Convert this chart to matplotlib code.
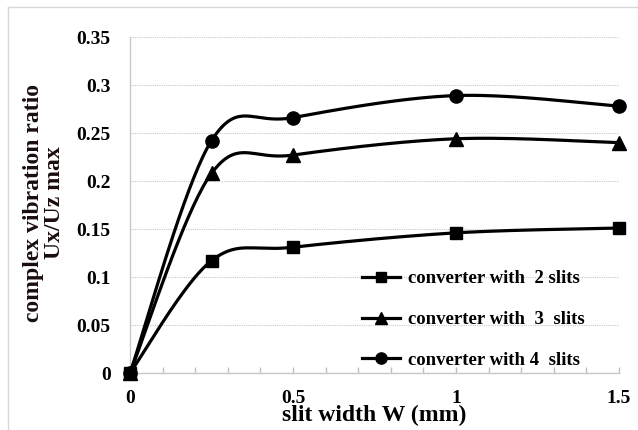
import numpy as np
import matplotlib
matplotlib.use("Agg")
import matplotlib.pyplot as plt
from matplotlib.lines import Line2D
from matplotlib.ticker import MultipleLocator, FixedLocator

# Data
x = [0, 0.25, 0.5, 1.0, 1.5]
y_2slits = [0, 0.117, 0.131, 0.146, 0.151]
y_3slits = [0, 0.208, 0.227, 0.244, 0.240]
y_4slits = [0, 0.242, 0.266, 0.289, 0.278]
labels = ["converter with  2 slits", "converter with  3  slits", "converter with 4  slits"]
markers = ["s", "^", "o"]
xtick_vals = [0, 0.5, 1, 1.5]
xtick_labels = ["0", "0.5", "1", "1.5"]
ytick_vals = [0, 0.05, 0.1, 0.15, 0.2, 0.25, 0.3, 0.35]
ytick_labels = ["0", "0.05", "0.1", "0.15", "0.2", "0.25", "0.3", "0.35"]


def smooth(xs, ys, n=40):
    P = np.column_stack([xs, ys]).astype(float)
    m = len(P)
    out = [P[0]]
    for i in range(m - 1):
        p0 = P[i - 1] if i > 0 else P[i]
        p1 = P[i]
        p2 = P[i + 1]
        p3 = P[i + 2] if i + 2 < m else P[i + 1]
        c1 = p1 + (p2 - p0) / 6.0
        c2 = p2 - (p3 - p1) / 6.0
        t = np.linspace(0, 1, n)[1:, None]
        seg = ((1 - t) ** 3) * p1 + 3 * ((1 - t) ** 2) * t * c1 + 3 * (1 - t) * t ** 2 * c2 + t ** 3 * p2
        out.extend(seg)
    out = np.array(out)
    return out[:, 0], out[:, 1]


plt.rcParams['font.family'] = ['Liberation Serif', 'DejaVu Serif']
plt.rcParams['font.weight'] = 'bold'

W, H = 638, 430
fig = plt.figure(figsize=(W / 100, H / 100), dpi=100)
ax = fig.add_axes([130 / W, 1 - 373 / H, (619 - 130) / W, (373 - 37) / H])

# figure border lines (top and left)
fig.add_artist(Line2D([8 / W, 1], [1 - 7 / H, 1 - 7 / H], transform=fig.transFigure, color='#d9d9d9', lw=1))
fig.add_artist(Line2D([8 / W, 8 / W], [0, 1 - 7 / H], transform=fig.transFigure, color='#d9d9d9', lw=1))

handles = []
for ys, mk, lab in zip([y_2slits, y_3slits, y_4slits], markers, labels):
    sx, sy = smooth(x, ys)
    ax.plot(sx, sy, color='black', lw=2.3, zorder=3, solid_capstyle='round')
    ms = 9.5 if mk == 'o' else (10 if mk == '^' else 9)
    ax.plot(x, ys, linestyle='none', marker=mk, color='black', ms=ms, zorder=4, clip_on=False)
    handles.append(Line2D([], [], color='black', lw=2.3, marker=mk, ms=ms * 0.85))

ax.set_xlim(0, 1.5)
ax.set_ylim(0, 0.35)
ax.xaxis.set_major_locator(FixedLocator(xtick_vals))
ax.set_xticklabels(xtick_labels)
ax.xaxis.set_minor_locator(MultipleLocator(0.1))
ax.set_yticks(ytick_vals)
ax.set_yticklabels(ytick_labels)

ax.tick_params(axis='x', which='both', direction='in', length=4, width=1, color='#bfbfbf',
               labelsize=14, pad=12)
ax.tick_params(axis='y', which='both', length=0, labelsize=14, pad=14)

ax.grid(axis='y', linestyle=(0, (1, 1)), color='#c8c8c8', lw=0.8, zorder=0)
ax.set_axisbelow(True)
for s in ['top', 'right']:
    ax.spines[s].set_visible(False)
for s in ['left', 'bottom']:
    ax.spines[s].set_color('#c8c8c8')
    ax.spines[s].set_linewidth(1)

ax.set_xlabel('slit width W (mm)', fontsize=17, fontweight='bold', labelpad=-1)
fig.text(44 / W, 1 - 203 / H, 'complex vibration ratio\nUx/Uz max', rotation=90,
         ha='center', va='center', fontsize=17, fontweight='bold', linespacing=1.0,
         color='#1a0d0d')

leg = ax.legend(handles, labels, loc='upper left', bbox_to_anchor=(362 / W, 1 - 270 / H),
                bbox_transform=fig.transFigure, frameon=False, fontsize=13.5,
                handlelength=2.0, handletextpad=0.45, labelspacing=1.27,
                borderpad=0, borderaxespad=0)
for t in leg.get_texts():
    t.set_fontweight('bold')

fig.savefig('out.png', dpi=100)
